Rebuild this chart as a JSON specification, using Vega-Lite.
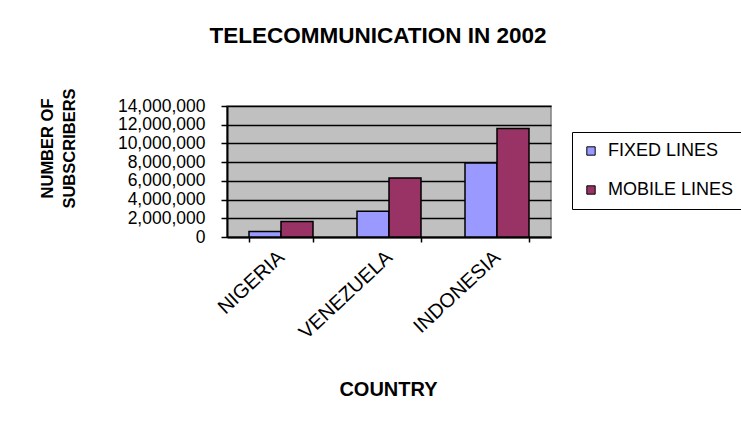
{
  "$schema": "https://vega.github.io/schema/vega-lite/v6.json",
  "autosize": "none",
  "width": 324,
  "height": 131,
  "padding": {"left": 227, "top": 106, "right": 190, "bottom": 193},
  "background": "white",
  "title": {
    "text": "TELECOMMUNICATION IN 2002",
    "font": "Liberation Sans",
    "fontSize": 22.5,
    "fontWeight": "bold",
    "color": "black",
    "anchor": "middle",
    "dx": -11,
    "offset": 40
  },
  "data": {
    "values": [
      {"country": "NIGERIA", "type": "FIXED LINES", "value": 600000},
      {"country": "NIGERIA", "type": "MOBILE LINES", "value": 1650000},
      {"country": "VENEZUELA", "type": "FIXED LINES", "value": 2750000},
      {"country": "VENEZUELA", "type": "MOBILE LINES", "value": 6300000},
      {"country": "INDONESIA", "type": "FIXED LINES", "value": 7900000},
      {"country": "INDONESIA", "type": "MOBILE LINES", "value": 11600000}
    ]
  },
  "mark": {"type": "bar", "stroke": "black", "strokeWidth": 1.5},
  "encoding": {
    "x": {
      "field": "country",
      "type": "nominal",
      "sort": ["NIGERIA", "VENEZUELA", "INDONESIA"],
      "scale": {"paddingInner": 0.4074, "paddingOuter": 0.2037},
      "axis": {
        "title": "COUNTRY",
        "titleFont": "Liberation Sans",
        "titleFontSize": 20,
        "titleFontWeight": "bold",
        "titleColor": "black",
        "titleX": 161,
        "titleY": 158,
        "titleBaseline": "alphabetic",
        "labelAngle": -43,
        "labelFont": "Liberation Sans",
        "labelFontSize": 20,
        "labelColor": "black",
        "labelPadding": 12,
        "labelAlign": "right",
        "labelBaseline": "middle",
        "labelOverlap": false,
        "tickBand": "extent",
        "tickSize": 5,
        "tickColor": "black",
        "tickWidth": 1.5,
        "domainColor": "black",
        "domainWidth": 2
      }
    },
    "xOffset": {
      "field": "type",
      "type": "nominal",
      "scale": {"paddingInner": 0, "paddingOuter": 0}
    },
    "y": {
      "field": "value",
      "type": "quantitative",
      "scale": {"domain": [0, 14000000], "nice": false},
      "axis": {
        "values": [0, 2000000, 4000000, 6000000, 8000000, 10000000, 12000000, 14000000],
        "format": ",d",
        "title": ["NUMBER OF", "SUBSCRIBERS"],
        "titleFont": "Liberation Sans",
        "titleFontSize": 16.5,
        "titleFontWeight": "bold",
        "titleColor": "black",
        "titleAngle": -90,
        "titleAlign": "center",
        "titleBaseline": "middle",
        "titleLineHeight": 22,
        "titleX": -180,
        "titleY": 42,
        "labelFont": "Liberation Sans",
        "labelFontSize": 17.5,
        "labelColor": "black",
        "labelPadding": 16,
        "labelOverlap": false,
        "labelBound": false,
        "tickSize": 6,
        "tickColor": "black",
        "tickWidth": 1.5,
        "domainColor": "black",
        "domainWidth": 2,
        "grid": true,
        "gridColor": "black",
        "gridWidth": 1.5
      }
    },
    "color": {
      "field": "type",
      "type": "nominal",
      "scale": {"domain": ["FIXED LINES", "MOBILE LINES"], "range": ["#9999FF", "#993366"]},
      "legend": {
        "title": null,
        "orient": "none",
        "legendX": 345,
        "legendY": 26,
        "strokeColor": "black",
        "padding": 10,
        "symbolType": "square",
        "symbolSize": 70,
        "symbolStrokeColor": "black",
        "symbolStrokeWidth": 1,
        "labelFont": "Liberation Sans",
        "labelFontSize": 18,
        "labelColor": "black",
        "labelOffset": 8,
        "rowPadding": 21,
        "fillColor": "white"
      }
    }
  },
  "config": {
    "view": {"fill": "#C0C0C0", "stroke": "#808080", "strokeWidth": 1.5}
  }
}
